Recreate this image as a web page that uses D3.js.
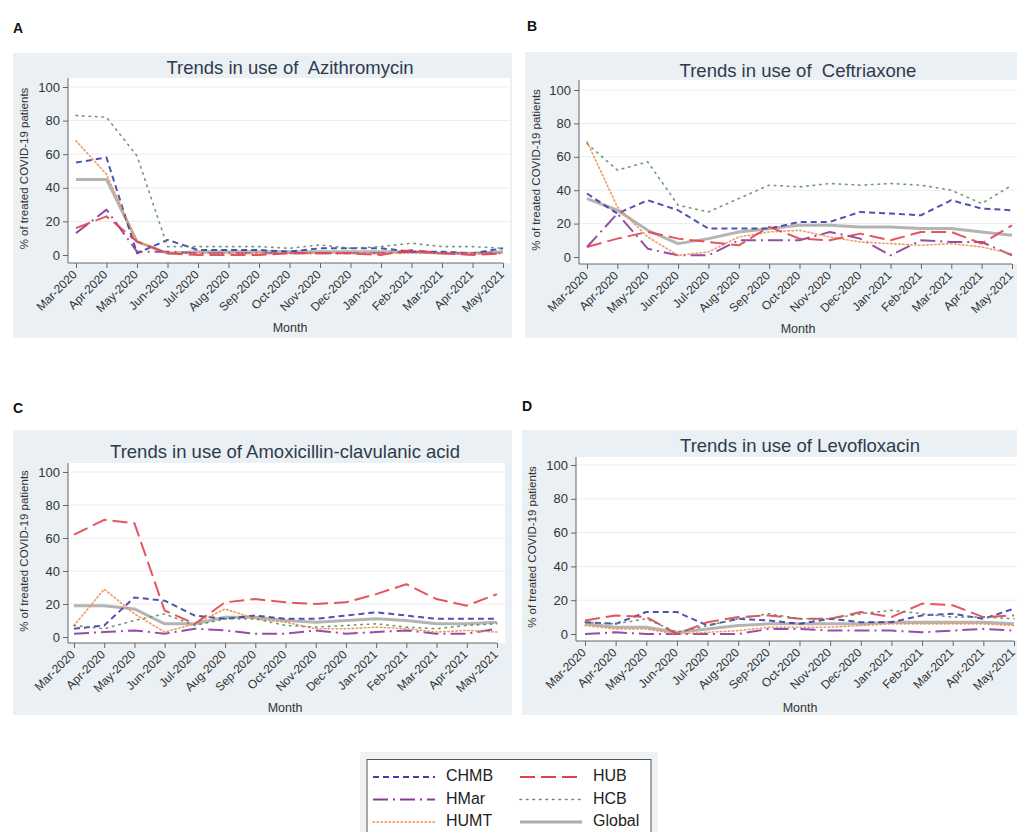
<!DOCTYPE html>
<html>
<head>
<meta charset="utf-8">
<script src="https://cdn.jsdelivr.net/npm/d3@7"></script>
<style>
  html, body { margin: 0; padding: 0; background: #ffffff; }
  svg { display: block; font-family: "Liberation Sans", Arial, sans-serif; }
</style>
</head>
<body>
<svg id="chart" width="1017" height="832"></svg>
<script>
// Months on the x axis
const months = ["Mar-2020","Apr-2020","May-2020","Jun-2020","Jul-2020","Aug-2020","Sep-2020",
  "Oct-2020","Nov-2020","Dec-2020","Jan-2021","Feb-2021","Mar-2021","Apr-2021","May-2021"];

// Hospitals / series names (drawing order)
const seriesNames = ["Global","CHMB","HMar","HUMT","HUB","HCB"];
const yTicks = [0, 20, 40, 60, 80, 100];

// % of treated COVID-19 patients, per hospital and month
const azithromycin = {
  CHMB:   [55,58,1,9,3,3,3,2,4,4,4,2,2,1,4],
  HUB:    [16,23,8,1,0,0,0,1,1,1,0,3,1,0,1],
  HMar:   [13,27,2,2,1,1,1,1,1,1,1,2,1,1,1],
  HCB:    [83,82,59,5,5,5,5,4,6,4,5,7,5,5,4],
  HUMT:   [68,48,8,1,1,1,1,1,1,1,1,1,1,1,1],
  Global: [45,45,8,1,2,2,2,2,2,2,2,2,1,1,2]
};
const ceftriaxone = {
  CHMB:   [38,26,34,28,17,17,17,21,21,27,26,25,34,29,28],
  HUB:    [6,11,15,11,9,7,18,11,10,14,10,15,15,8,19],
  HMar:   [6,26,5,1,1,10,10,10,15,11,1,10,9,9,1],
  HCB:    [68,52,57,31,27,35,43,42,44,43,44,43,40,32,43],
  HUMT:   [69,30,12,1,3,12,15,16,12,9,8,7,8,6,2],
  Global: [35,28,16,8,11,15,17,19,19,18,18,17,17,15,13]
};
const amoxiClav = {
  CHMB:   [5,7,24,22,13,11,13,11,11,13,15,13,11,11,11],
  HUB:    [62,71,69,16,8,21,23,21,20,21,26,32,23,19,26],
  HMar:   [2,3,4,2,5,4,2,2,4,2,3,4,2,2,5],
  HCB:    [7,5,10,14,7,11,11,7,6,7,8,6,5,7,8],
  HUMT:   [7,29,14,3,8,17,11,9,5,5,6,5,3,4,3],
  Global: [19,19,17,8,8,12,12,10,9,10,11,10,8,8,9]
};
const levofloxacin = {
  CHMB:   [7,6,13,13,5,9,8,6,9,7,7,11,12,9,15],
  HUB:    [8,11,10,0,7,10,11,9,9,13,10,18,17,10,11],
  HMar:   [0,1,0,0,0,0,3,3,2,2,2,1,2,3,2],
  HCB:    [7,6,9,1,5,9,12,9,9,12,14,12,10,10,9],
  HUMT:   [5,3,3,0,1,2,4,4,4,5,6,6,6,6,5],
  Global: [6,4,4,1,3,5,6,6,6,6,7,7,7,7,6]
};

const panelLetters = ["A","B","C","D"];
const panelTitles = [
  "Trends in use of  Azithromycin",
  "Trends in use of  Ceftriaxone",
  "Trends in use of Amoxicillin-clavulanic acid",
  "Trends in use of Levofloxacin"
];
const panelData = [azithromycin, ceftriaxone, amoxiClav, levofloxacin];

// Line styles for each series
const styles = {
  CHMB:   { color: "#3d3fa8", width: 2,   dash: "6,4" },
  HUB:    { color: "#e2424f", width: 2,   dash: "15,6" },
  HMar:   { color: "#8b3a9b", width: 2,   dash: "15,5,2,5" },
  HCB:    { color: "#5e8c6e", width: 1.6, dash: "1.5,5" },
  HUMT:   { color: "#f0904e", width: 1.6, dash: "1.5,2.5" },
  Global: { color: "#acacac", width: 3,   dash: null }
};

// Panel geometry: background box, plot frame and letter position
const layout = [
  { bg:[13,53,499,285],  ax:68,  right:510,  top:78,  bottom:263, x0:76,  x1:503,  y0:255, y100:87,  titleX:290, titleY:74,  monthY:332, ytitleX:25,  letter:[13,33] },
  { bg:[525,52,492,286], ax:579, right:1017, top:80,  bottom:264, x0:587, x1:1012, y0:257, y100:90,  titleX:798, titleY:77,  monthY:333, ytitleX:537, letter:[527,31] },
  { bg:[13,430,499,285], ax:68,  right:505,  top:463, bottom:643, x0:74,  x1:497,  y0:637, y100:472, titleX:285, titleY:458, monthY:712, ytitleX:25,  letter:[13,413] },
  { bg:[522,430,495,285],ax:576, right:1017, top:457, bottom:641, x0:585, x1:1014, y0:634, y100:465, titleX:800, titleY:452, monthY:712, ytitleX:533, letter:[522,411] }
];

const svg = d3.select("#chart");

panelData.forEach((data, i) => {
  const L = layout[i];
  const g = svg.append("g");

  // panel letter
  g.append("text").attr("x", L.letter[0]).attr("y", L.letter[1])
    .attr("font-size", 14).attr("font-weight", "bold").attr("fill", "#111")
    .text(panelLetters[i]);

  // panel background
  g.append("rect").attr("x", L.bg[0]).attr("y", L.bg[1]).attr("width", L.bg[2]).attr("height", L.bg[3])
    .attr("fill", "#eaf0f3");

  // plot area
  g.append("rect").attr("x", L.ax).attr("y", L.top).attr("width", L.right - L.ax).attr("height", L.bottom - L.top)
    .attr("fill", "#ffffff");

  // title
  g.append("text").attr("x", L.titleX).attr("y", L.titleY)
    .attr("text-anchor", "middle").attr("font-size", 18.5).attr("fill", "#2f3b4c")
    .attr("xml:space", "preserve").style("white-space", "pre")
    .text(panelTitles[i]);

  const x = d3.scalePoint().domain(months).range([L.x0, L.x1]);
  const y = d3.scaleLinear().domain([0, 100]).range([L.y0, L.y100]);

  // gridlines
  g.selectAll(".grid").data(yTicks.filter(t => t > 0)).join("line")
    .attr("x1", L.ax).attr("x2", L.right)
    .attr("y1", d => y(d)).attr("y2", d => y(d))
    .attr("stroke", "#e9eef2").attr("stroke-width", 1);

  // y axis
  const ya = g.append("g").attr("transform", `translate(${L.ax},0)`)
    .call(d3.axisLeft(y).tickValues(yTicks).tickSize(5).tickPadding(3));
  ya.select(".domain").remove();
  ya.selectAll(".tick line").attr("stroke", "#666");
  ya.selectAll(".tick text").attr("font-size", 13).attr("fill", "#333").attr("font-family", "Liberation Sans, Arial, sans-serif");
  g.append("line").attr("x1", L.ax).attr("x2", L.ax).attr("y1", L.top).attr("y2", L.bottom)
    .attr("stroke", "#666");

  // x axis
  const xa = g.append("g").attr("transform", `translate(0,${L.bottom})`)
    .call(d3.axisBottom(x).tickSize(5).tickPadding(2));
  xa.select(".domain").remove();
  xa.selectAll(".tick line").attr("stroke", "#666");
  xa.selectAll(".tick text")
    .attr("font-size", 12).attr("fill", "#333").attr("font-family", "Liberation Sans, Arial, sans-serif")
    .attr("text-anchor", "end").attr("dy", null)
    .attr("transform", "translate(-1,10) rotate(-45)")
    .attr("y", 0).attr("dominant-baseline", "middle");
  g.append("line").attr("x1", L.ax).attr("x2", x(months[months.length - 1])).attr("y1", L.bottom).attr("y2", L.bottom)
    .attr("stroke", "#666");

  // axis titles
  g.append("text").attr("x", L.titleX).attr("y", L.monthY)
    .attr("text-anchor", "middle").attr("font-size", 12.5).attr("fill", "#333").text("Month");
  g.append("text")
    .attr("transform", `translate(${L.ytitleX},${(L.top + L.bottom) / 2 - 2}) rotate(-90)`)
    .attr("text-anchor", "middle").attr("dominant-baseline", "middle")
    .attr("font-size", 11.5).attr("fill", "#333").text("% of treated COVID-19 patients");

  // series lines
  const line = d3.line()
    .x((d, j) => x(months[j]))
    .y(d => y(d));

  seriesNames.forEach(name => {
    const s = styles[name];
    g.append("path").datum(data[name])
      .attr("d", line)
      .attr("fill", "none")
      .attr("stroke", s.color)
      .attr("stroke-width", s.width)
      .attr("stroke-dasharray", s.dash)
      .attr("stroke-linejoin", "round")
      .attr("stroke-linecap", name === "HCB" || name === "HUMT" ? "round" : "butt")
      .attr("opacity", 0.9);
  });
});

// Legend
const legendRows = [["CHMB","HUB"],["HMar","HCB"],["HUMT","Global"]];
const lg = svg.append("g");
lg.append("rect").attr("x", 360).attr("y", 752).attr("width", 298).attr("height", 80).attr("fill", "#eef2f5");
lg.append("rect").attr("x", 367).attr("y", 759.5).attr("width", 284).attr("height", 80)
  .attr("fill", "#ffffff").attr("stroke", "#555").attr("stroke-width", 1);
legendRows.forEach((row, r) => {
  row.forEach((name, c) => {
    const s = styles[name];
    const cy = 777 + r * 22.5;
    const lx = c === 0 ? 373 : 520;
    lg.append("line").attr("x1", lx).attr("x2", lx + 62).attr("y1", cy).attr("y2", cy)
      .attr("stroke", s.color).attr("stroke-width", s.width).attr("stroke-dasharray", s.dash)
      .attr("stroke-linecap", name === "HCB" || name === "HUMT" ? "round" : "butt");
    lg.append("text").attr("x", lx + 73).attr("y", cy).attr("dominant-baseline", "middle")
      .attr("font-size", 16).attr("fill", "#222").text(name);
  });
});
</script>
</body>
</html>
